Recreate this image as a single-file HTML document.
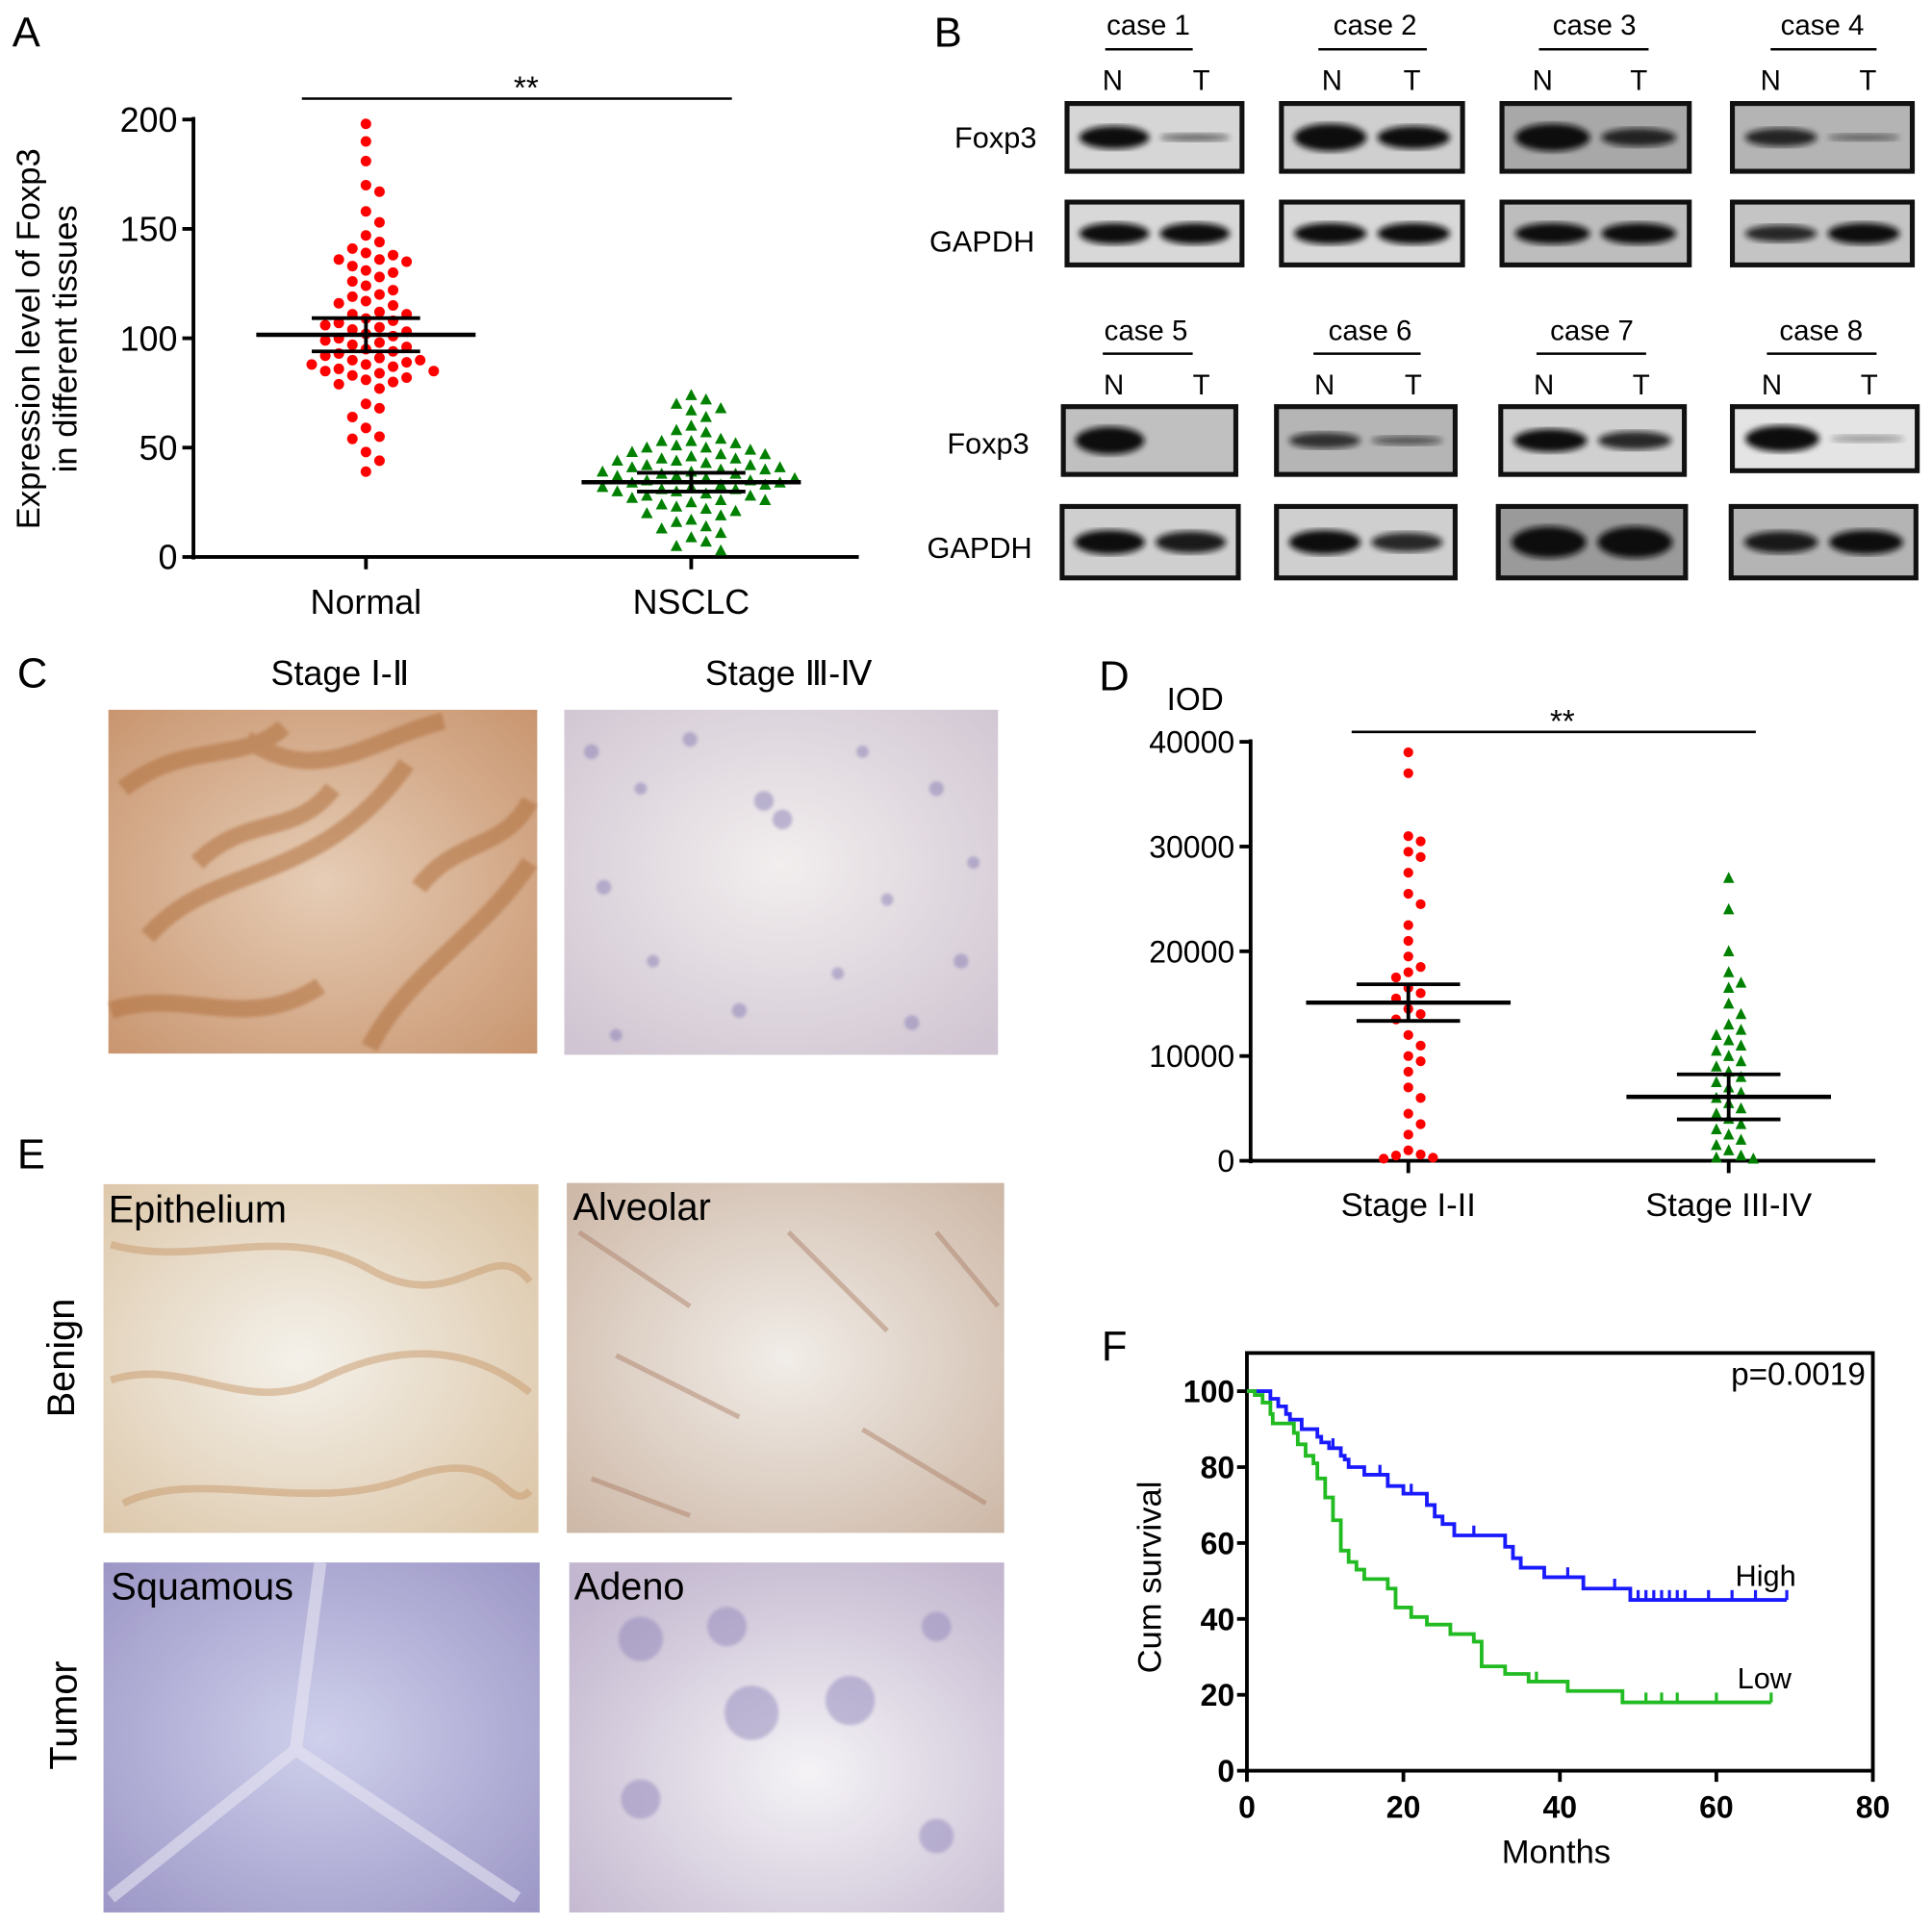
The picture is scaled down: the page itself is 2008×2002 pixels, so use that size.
<!DOCTYPE html>
<html><head><meta charset="utf-8"><style>
html,body{margin:0;padding:0;background:#fff;}
svg{display:block;}
text{font-family:"Liberation Sans",sans-serif;}
</style></head><body>
<svg id="fig" width="2008" height="2002" viewBox="0 0 1568 1563" preserveAspectRatio="none" xmlns="http://www.w3.org/2000/svg">
<defs>
<filter id="blur2"><feGaussianBlur stdDeviation="2.5"/></filter>
<filter id="blur1"><feGaussianBlur stdDeviation="1.2"/></filter>
<radialGradient id="gC1" cx="0.5" cy="0.5" r="0.7"><stop offset="0" stop-color="#e6cdb6"/><stop offset="1" stop-color="#c99670"/></radialGradient>
<radialGradient id="gC2" cx="0.5" cy="0.45" r="0.7"><stop offset="0" stop-color="#f2eeee"/><stop offset="1" stop-color="#d0c5d2"/></radialGradient>
<radialGradient id="gE1" cx="0.45" cy="0.5" r="0.7"><stop offset="0" stop-color="#f4f1ea"/><stop offset="1" stop-color="#dcc6a8"/></radialGradient>
<radialGradient id="gE2" cx="0.5" cy="0.5" r="0.7"><stop offset="0" stop-color="#f1ede8"/><stop offset="1" stop-color="#cdb7a6"/></radialGradient>
<radialGradient id="gE3" cx="0.5" cy="0.5" r="0.7"><stop offset="0" stop-color="#cfd0ec"/><stop offset="1" stop-color="#9c97c6"/></radialGradient>
<radialGradient id="gE4" cx="0.55" cy="0.6" r="0.7"><stop offset="0" stop-color="#f5f3f6"/><stop offset="1" stop-color="#c3b7cf"/></radialGradient>
</defs>

<text x="10" y="38" font-size="34">A</text>
<text x="758" y="38" font-size="34">B</text>
<text x="14" y="558" font-size="34">C</text>
<text x="892" y="560" font-size="34">D</text>
<text x="14" y="948" font-size="34">E</text>
<text x="894" y="1104" font-size="34">F</text>

<text x="276" y="556" font-size="28" text-anchor="middle" font-family="Liberation Sans, Noto Sans CJK SC, sans-serif">Stage Ⅰ-Ⅱ</text>
<text x="640" y="556" font-size="28" text-anchor="middle" font-family="Liberation Sans, Noto Sans CJK SC, sans-serif">Stage Ⅲ-Ⅳ</text>
<g>
<rect x="88" y="576" width="348" height="279" fill="url(#gC1)"/>
<g fill="none" stroke="#b0703e" stroke-width="14" opacity="0.55" filter="url(#blur1)">
<path d="M100 640 C150 600,200 620,230 590 M120 760 C170 700,260 720,330 620 M90 820 C150 800,200 840,260 800 M300 850 C330 790,390 760,430 700 M200 600 C260 640,300 600,360 585 M160 700 C200 660,240 680,270 640 M340 720 C370 680,410 690,430 650"/>
</g></g>
<g>
<rect x="458" y="576" width="352" height="280" fill="url(#gC2)"/>
<g fill="#7f75b0" opacity="0.45" filter="url(#blur1)">
<circle cx="480" cy="610" r="6"/><circle cx="520" cy="640" r="5"/><circle cx="560" cy="600" r="6"/><circle cx="700" cy="610" r="5"/><circle cx="760" cy="640" r="6"/><circle cx="790" cy="700" r="5"/><circle cx="490" cy="720" r="6"/><circle cx="530" cy="780" r="5"/><circle cx="600" cy="820" r="6"/><circle cx="680" cy="790" r="5"/><circle cx="740" cy="830" r="6"/><circle cx="620" cy="650" r="8"/><circle cx="635" cy="665" r="8"/><circle cx="720" cy="730" r="5"/><circle cx="500" cy="840" r="5"/><circle cx="780" cy="780" r="6"/>
</g></g>

<g>
<rect x="84" y="961" width="353" height="283" fill="url(#gE1)"/>
<g fill="none" stroke="#c79a6c" stroke-width="6" opacity="0.5"><path d="M90 1010 C160 1030,230 990,300 1030 S400 1000,430 1040 M90 1120 C150 1100,200 1150,260 1120 S380 1090,430 1130 M100 1220 C160 1190,250 1230,330 1200 S410 1230,430 1210"/></g></g>
<text x="88" y="992" font-size="31">Epithelium</text>
<g>
<rect x="460" y="960" width="355" height="284" fill="url(#gE2)"/>
<g fill="none" stroke="#a87a62" stroke-width="4" opacity="0.45"><path d="M470 1000 L560 1060 M500 1100 L600 1150 M640 1000 L720 1080 M700 1160 L800 1220 M480 1200 L560 1230 M760 1000 L810 1060"/></g></g>
<text x="465" y="990" font-size="31">Alveolar</text>
<g>
<rect x="84" y="1268" width="354" height="284" fill="url(#gE3)"/>
<path d="M260 1268 L240 1420 L90 1540 M240 1420 L420 1540" stroke="#e6e4f2" stroke-width="10" fill="none" opacity="0.6"/></g>
<text x="90" y="1298" font-size="31">Squamous</text>
<g>
<rect x="462" y="1268" width="353" height="284" fill="url(#gE4)"/>
<g fill="#8a80b8" opacity="0.45" filter="url(#blur1)"><circle cx="520" cy="1330" r="18"/><circle cx="590" cy="1320" r="16"/><circle cx="610" cy="1390" r="22"/><circle cx="690" cy="1380" r="20"/><circle cx="520" cy="1460" r="16"/><circle cx="760" cy="1320" r="12"/><circle cx="760" cy="1490" r="14"/></g></g>
<text x="466" y="1298" font-size="31">Adeno</text>
<text transform="translate(60,1102) rotate(-90)" font-size="31" text-anchor="middle">Benign</text>
<text transform="translate(62,1392) rotate(-90)" font-size="31" text-anchor="middle">Tumor</text>

<g id="blots"></g>
<g id="chartA"></g>
<g id="chartD"></g>
<g id="chartF"></g>
</svg>
<script>
// ===== Panel A data =====
const catsA = ["Normal", "NSCLC"];
const normalVals = [198,190,181,170,167,158,153,147,144,141,139,138,136,136,135,133,131,130,128,126,124,122,120,119,117,116,115,112,111,111,109,108,107,106,105,104,103,102,101,100,99,98,97,96,95,94,93,92,91,90,90,89,88,88,87,86,85,85,84,83,82,81,80,79,77,70,68,64,59,55,54,48,44,39];
const nsclcVals = [74,72,70,68,67,64,60,58,57,54,53,53,52,51,50,50,49,48,47,47,46,45,45,44,44,43,42,42,41,41,40,40,39,39,38,38,37,37,36,36,35,35,34,34,33,33,32,32,31,31,30,30,29,28,28,27,26,26,25,24,23,22,21,20,19,17,16,14,13,11,9,7,5,3];
const meanA = [101.6, 34.2];
const semA = [7.6, 4.3];
const ticksA = [0,50,100,150,200];
// ===== Panel D data =====
const catsD = ["Stage I-II", "Stage III-IV"];
const stage12Vals = [39000,37000,31000,30500,29500,29000,27500,25500,24500,22500,21000,19500,18500,18000,17500,16500,16000,15500,14500,14000,13500,12000,11000,10000,9500,8500,7000,6000,4500,3500,2500,1000,600,500,300,200];
const stage34Vals = [27000,24000,20000,18000,17000,16500,15000,14000,13000,12500,12000,11500,11000,10500,10000,9500,9000,8500,8000,7500,7000,6500,6000,5500,5000,4500,4000,3500,3000,2500,2000,1500,1000,500,300,200];
const meanD = [15100, 6100];
const semD = [1750, 2150];
const ticksD = [0,10000,20000,30000,40000];
// ===== Panel F data =====
const highTimes = [3,4,5,5.5,7,9,9.5,10.5,12,12.5,13,15,18,20,23,24,25,26.5,33,34,35,38,43,49];
const highSurv  = [98,96,94,92.5,90,88,86.5,85,83,82,80,78,75,73,70,67,65,62,59,56,53.5,51,48,45];
const highCensor = [11,17,21,29,41,47,50,51,52,53,54,55,56,59,62,65,69];
const highEnd = 69;
const lowTimes = [1,2,3,3.3,6,6.5,7.5,8.5,9,10,11,12,13,14,15,18,19,21,23,26,29,30,33,36,41,48];
const lowSurv  = [99,97,94,91.5,89,86,83,81,77,72,66,58,55,53,50.5,48,43,40.5,38.5,36,34,27.5,25.5,23.5,21,18];
const lowCensor = [37,51,53,55,60,67];
const lowEnd = 67;
const ticksFx = [0,20,40,60,80];
const ticksFy = [0,20,40,60,80,100];

const NS = "http://www.w3.org/2000/svg";
function mk(tag, attrs, parent){const e=document.createElementNS(NS,tag);for(const k in attrs)e.setAttribute(k,attrs[k]);parent.appendChild(e);return e;}

function swarm(vals, yfn, d){
  const placed=[]; const out=[];
  vals.forEach(v=>{const y=yfn(v);let off=0;
    for(let k=0;k<60;k++){const cand=k===0?0:(k%2?1:-1)*Math.ceil(k/2)*d;
      if(placed.every(p=>Math.hypot(p[0]-cand,p[1]-y)>=d)){off=cand;break;}}
    placed.push([off,y]); out.push(off);});
  return out;
}

// ===== Draw A =====
(function(){
const g=document.getElementById('chartA');
const X0=157,X1=697,Y0=452,YT=97;
const y=v=>Y0-v*(Y0-YT)/200;
const xc=[297,561];
const axY=mk('line',{x1:X0,y1:YT-2,x2:X0,y2:Y0+2,stroke:'#000','stroke-width':3},g);


const axX=mk('line',{x1:X0,y1:Y0,x2:X1,y2:Y0,stroke:'#000','stroke-width':3},g);


ticksA.forEach(t=>{
  const tl=mk('line',{x1:X0-9,y1:y(t),x2:X0,y2:y(t),stroke:'#000','stroke-width':3},g);
  
  
  const tx=mk('text',{x:X0-13,y:y(t)+10,'font-size':28,'text-anchor':'end'},g);tx.textContent=t;
  
  
});
catsA.forEach((c,i)=>{
  const tl=mk('line',{x1:xc[i],y1:Y0,x2:xc[i],y2:Y0+10,stroke:'#000','stroke-width':3},g);
  
  
  const tx=mk('text',{x:xc[i],y:498,'font-size':28,'text-anchor':'middle'},g);tx.textContent=c;
  
  
});
const t1=mk('text',{transform:'translate(32,275) rotate(-90)','font-size':27,'text-anchor':'middle'},g);t1.textContent='Expression level of Foxp3';


const t2=mk('text',{transform:'translate(62,275) rotate(-90)','font-size':27,'text-anchor':'middle'},g);t2.textContent='in different tissues';


const sl=mk('line',{x1:245,y1:80,x2:594,y2:80,stroke:'#000','stroke-width':2},g);


const st=mk('text',{x:427,y:80,'font-size':26,'text-anchor':'middle'},g);st.textContent='**';


const offN=swarm(normalVals,y,11);
normalVals.forEach((v,i)=>{const c=mk('circle',{cx:xc[0]+offN[i],cy:y(v),r:4.3,fill:'#ff0000'},g);
  
  });
const offT=swarm(nsclcVals,y,12);
nsclcVals.forEach((v,i)=>{const cx=xc[1]+offT[i],cy=y(v);
  const p=mk('polygon',{points:`${cx},${cy-5} ${cx-4.8},${cy+4} ${cx+4.8},${cy+4}`,fill:'#008000'},g);
  
  });
[0,1].forEach(i=>{
  const m=mk('line',{x1:xc[i]-89,y1:y(meanA[i]),x2:xc[i]+89,y2:y(meanA[i]),stroke:'#000','stroke-width':3.5},g);
  
  
  const e=mk('path',{d:`M${xc[i]-44} ${y(meanA[i]+semA[i])}H${xc[i]+44}M${xc[i]-44} ${y(meanA[i]-semA[i])}H${xc[i]+44}M${xc[i]} ${y(meanA[i]+semA[i])}V${y(meanA[i]-semA[i])}`,stroke:'#000','stroke-width':3,fill:'none'},g);
  
  
});
})();

// ===== Draw D =====
(function(){
const g=document.getElementById('chartD');
const X0=1015,X1=1522,Y0=942,YT=602;
const y=v=>Y0-v*(Y0-YT)/40000;
const xc=[1143,1403];
const axY=mk('line',{x1:X0,y1:YT-2,x2:X0,y2:Y0+2,stroke:'#000','stroke-width':3},g);


const axX=mk('line',{x1:X0,y1:Y0,x2:X1,y2:Y0,stroke:'#000','stroke-width':3},g);


ticksD.forEach(t=>{
  const tl=mk('line',{x1:X0-9,y1:y(t),x2:X0,y2:y(t),stroke:'#000','stroke-width':3},g);
  
  
  const tx=mk('text',{x:X0-13,y:y(t)+9,'font-size':25,'text-anchor':'end'},g);tx.textContent=t;
  
  
});
catsD.forEach((c,i)=>{
  const tl=mk('line',{x1:xc[i],y1:Y0,x2:xc[i],y2:Y0+10,stroke:'#000','stroke-width':3},g);
  
  
  const tx=mk('text',{x:xc[i],y:987,'font-size':27,'text-anchor':'middle'},g);tx.textContent=c;
  
  
});
const iod=mk('text',{x:970,y:576,'font-size':26,'text-anchor':'middle'},g);iod.textContent='IOD';


const sl=mk('line',{x1:1097,y1:594,x2:1425,y2:594,stroke:'#000','stroke-width':2},g);


const st=mk('text',{x:1268,y:594,'font-size':26,'text-anchor':'middle'},g);st.textContent='**';


const o1=swarm(stage12Vals,y,10);
stage12Vals.forEach((v,i)=>{const c=mk('circle',{cx:xc[0]+o1[i],cy:y(v),r:4,fill:'#ff0000'},g);
  
  });
const o2=swarm(stage34Vals,y,10);
stage34Vals.forEach((v,i)=>{const cx=xc[1]+o2[i],cy=y(v);
  const p=mk('polygon',{points:`${cx},${cy-5} ${cx-4.5},${cy+4} ${cx+4.5},${cy+4}`,fill:'#008000'},g);
  
  });
[0,1].forEach(i=>{
  const m=mk('line',{x1:xc[i]-83,y1:y(meanD[i]),x2:xc[i]+83,y2:y(meanD[i]),stroke:'#000','stroke-width':3.5},g);
  
  
  const e=mk('path',{d:`M${xc[i]-42} ${y(meanD[i]+semD[i])}H${xc[i]+42}M${xc[i]-42} ${y(meanD[i]-semD[i])}H${xc[i]+42}M${xc[i]} ${y(meanD[i]+semD[i])}V${y(meanD[i]-semD[i])}`,stroke:'#000','stroke-width':3,fill:'none'},g);
  
  
});
})();

// ===== Draw F =====
(function(){
const g=document.getElementById('chartF');
const X0=1012,X1=1520,Y0=1437,YT=1098;
const x=m=>X0+m*(X1-X0)/80;
const y=s=>Y0-s*308/100;
const fr=mk('rect',{x:X0,y:YT,width:X1-X0,height:Y0-YT,fill:'none',stroke:'#000','stroke-width':3},g);


ticksFy.forEach(t=>{
  const tl=mk('line',{x1:X0-8,y1:y(t),x2:X0,y2:y(t),stroke:'#000','stroke-width':3},g);
  
  
  const tx=mk('text',{x:X0-10,y:y(t)+9,'font-size':25,'font-weight':'bold','text-anchor':'end'},g);tx.textContent=t;
  
  
});
ticksFx.forEach(t=>{
  const tl=mk('line',{x1:x(t),y1:Y0,x2:x(t),y2:Y0+9,stroke:'#000','stroke-width':3},g);
  
  
  const tx=mk('text',{x:x(t),y:Y0+38,'font-size':25,'font-weight':'bold','text-anchor':'middle'},g);tx.textContent=t;
  
  
});
const xt=mk('text',{x:1263,y:1512,'font-size':27,'text-anchor':'middle'},g);xt.textContent='Months';


const yt=mk('text',{transform:'translate(942,1280) rotate(-90)','font-size':27,'text-anchor':'middle'},g);yt.textContent='Cum survival';


const pv=mk('text',{x:1514,y:1124,'font-size':26,'text-anchor':'end'},g);pv.textContent='p=0.0019';


function km(times,surv,end,censor,color,name){
  let d=`M${x(0)} ${y(100)}`;
  times.forEach((t,i)=>{d+=`H${x(t)}V${y(surv[i])}`;});
  d+=`H${x(end)}`;
  const p=mk('path',{d:d,fill:'none',stroke:color,'stroke-width':3},g);
  
  
  const sAt=t=>{let s=100;times.forEach((tt,i)=>{if(tt<=t)s=surv[i];});return s;};
  censor.forEach(c=>{const cl=mk('line',{x1:x(c),y1:y(sAt(c)),x2:x(c),y2:y(sAt(c))-8,stroke:color,'stroke-width':2.5},g);
    
    });
}
km(highTimes,highSurv,highEnd,highCensor,'#1a1aff','high');
km(lowTimes,lowSurv,lowEnd,lowCensor,'#22bb22','low');
const hl=mk('text',{x:1433,y:1287,'font-size':24,'text-anchor':'middle'},g);hl.textContent='High';


const ll=mk('text',{x:1432,y:1370,'font-size':24,'text-anchor':'middle'},g);ll.textContent='Low';


})();

// ===== Western blots =====
(function(){
const g=document.getElementById('blots');
const cases=[
 {n:1,cx:932,ly:28,uy:40,ux:[897,968],nx:903,tx:975,ty:73,f:[866,84,1008,139,'#d6d6d6',1,0.35],h:[866,164,1008,215,'#d8d8d8',1,1]},
 {n:2,cx:1116,ly:28,uy:40,ux:[1070,1158],nx:1081,tx:1146,ty:73,f:[1040,84,1187,139,'#cfcfcf',1.2,1],h:[1040,164,1187,215,'#d8d8d8',1,1]},
 {n:3,cx:1294,ly:28,uy:40,ux:[1249,1338],nx:1252,tx:1330,ty:73,f:[1219,84,1371,139,'#a8a8a8',1.2,0.8],h:[1219,164,1371,215,'#bdbdbd',1,1]},
 {n:4,cx:1479,ly:28,uy:40,ux:[1437,1523],nx:1437,tx:1516,ty:73,f:[1406,84,1552,139,'#b4b4b4',0.8,0.3],h:[1406,164,1552,215,'#c4c4c4',0.8,1]},
 {n:5,cx:930,ly:276,uy:287,ux:[895,968],nx:904,tx:975,ty:320,f:[863,330,1003,385,'#c0c0c0',1.2,0],h:[862,411,1005,469,'#cfcfcf',1,0.9]},
 {n:6,cx:1112,ly:276,uy:287,ux:[1066,1153],nx:1075,tx:1147,ty:320,f:[1036,330,1181,385,'#b5b5b5',0.7,0.4],h:[1036,411,1181,469,'#cfcfcf',1,0.8]},
 {n:7,cx:1292,ly:276,uy:287,ux:[1247,1336],nx:1253,tx:1332,ty:320,f:[1218,330,1367,385,'#d0d0d0',1,0.8],h:[1216,411,1368,469,'#9a9a9a',1.3,1.3]},
 {n:8,cx:1478,ly:276,uy:287,ux:[1434,1523],nx:1438,tx:1517,ty:320,f:[1406,330,1556,382,'#e4e4e4',1.2,0.08],h:[1405,411,1555,469,'#b4b4b4',0.9,1]}
];
[['Foxp3',808,120],['GAPDH',797,204],['Foxp3',802,368],['GAPDH',795,453]].forEach(l=>{
  const t=mk('text',{x:l[1],y:l[2],'font-size':24,'text-anchor':'middle'},g);t.textContent=l[0];
  
  
});
function box(b,name){
  const [x1,y1,x2,y2,bg,sn,st]=b;const w=x2-x1,h=y2-y1;
  const r=mk('rect',{x:x1,y:y1,width:w,height:h,fill:bg},g);
  
  
  [[x1+w*0.27,sn],[x1+w*0.73,st]].forEach(bd=>{ if(bd[1]<=0)return;
    const e=mk('ellipse',{cx:bd[0],cy:y1+h*0.5,rx:w*0.2,ry:Math.max(3,h*0.17*bd[1]),fill:'#111',opacity:Math.min(1,0.3+bd[1]*0.7),filter:'url(#blur2)'},g);
    
    });
  const f=mk('rect',{x:x1,y:y1,width:w,height:h,fill:'none',stroke:'#111','stroke-width':4},g);
  
  
}
cases.forEach(c=>{
  const t=mk('text',{x:c.cx,y:c.ly,'font-size':23,'text-anchor':'middle'},g);t.textContent='case '+c.n;
  
  
  const u=mk('line',{x1:c.ux[0],y1:c.uy,x2:c.ux[1],y2:c.uy,stroke:'#000','stroke-width':2},g);
  
  
  const n=mk('text',{x:c.nx,y:c.ty,'font-size':23,'text-anchor':'middle'},g);n.textContent='N';
  
  
  const tt=mk('text',{x:c.tx,y:c.ty,'font-size':23,'text-anchor':'middle'},g);tt.textContent='T';
  
  
  box(c.f,'foxp3-blot');
  box(c.h,'gapdh-blot');
});
})();
</script>
</body></html>
